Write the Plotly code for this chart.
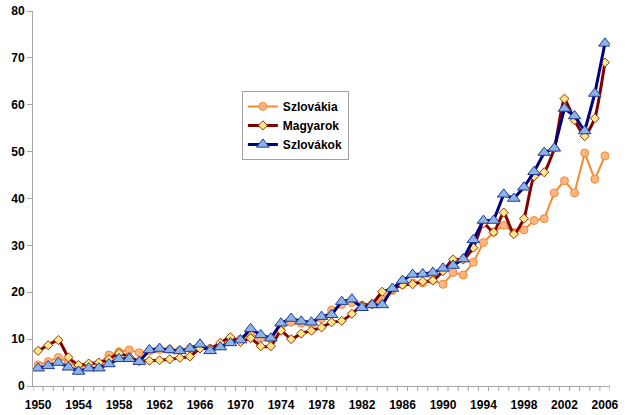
import plotly.graph_objects as go

years = list(range(1950, 2007))

szlovakia = [4.5, 5.2, 6.1, 5.1, 4.0, 4.5, 4.8, 6.6, 7.3, 7.7,
             7.1, 7.5, 7.8, 7.8, 7.6, 8.0, 8.6, 8.0, 8.6, 9.6,
             10.0, 11.2, 10.2, 10.0, 12.6, 13.6, 13.4, 13.2, 14.4, 16.2,
             17.4, 17.8, 17.2, 17.4, 18.5, 20.4, 21.6, 22.0, 22.0, 22.6,
             21.7, 24.2, 23.7, 26.4, 30.6, 32.8, 34.3, 32.8, 33.3, 35.3,
             35.7, 41.2, 43.8, 41.2, 49.7, 44.1, 49.1]

magyarok = [7.5, 8.7, 9.8, 6.1, 4.5, 4.8, 5.0, 5.7, 7.0, 6.2,
            5.3, 5.4, 5.5, 5.7, 6.0, 6.3, 8.0, 8.0, 9.2, 10.4,
            9.4, 10.2, 8.5, 8.5, 11.8, 10.0, 11.2, 11.8, 12.5, 13.6,
            13.9, 15.4, 17.2, 17.5, 20.1, 20.7, 21.6, 21.7, 22.3, 22.5,
            24.5, 27.0, 27.0, 29.5, 34.7, 32.8, 37.0, 32.4, 35.7, 44.7,
            45.6, 50.7, 61.3, 56.7, 53.3, 57.1, 69.0]

szlovakok = [3.8, 4.3, 5.0, 4.0, 3.1, 3.8, 3.8, 4.7, 5.8, 5.8,
             5.2, 7.7, 8.0, 7.7, 7.5, 8.0, 8.9, 7.5, 8.3, 9.2,
             9.8, 12.2, 10.9, 10.2, 13.4, 14.4, 13.8, 13.6, 14.8, 15.2,
             18.0, 18.5, 16.7, 17.3, 17.3, 20.8, 22.5, 23.8, 23.9, 24.2,
             25.1, 25.7, 27.1, 31.2, 35.3, 35.3, 40.9, 40.0, 42.4, 45.7,
             49.8, 50.7, 59.2, 57.6, 54.4, 62.4, 73.1]

x_label_start, x_label_step = 1950, 4
y_labels = [0, 10, 20, 30, 40, 50, 60, 70, 80]

FONT = "Liberation Sans, Arial, sans-serif"

fig = go.Figure()
fig.add_trace(go.Scatter(
    x=years, y=szlovakia, name="Szlovákia", mode="lines+markers",
    line=dict(color="#F7892F", width=2),
    marker=dict(symbol="circle", size=8, color="#FDB682",
                line=dict(color="#F7892F", width=1))))
fig.add_trace(go.Scatter(
    x=years, y=magyarok, name="Magyarok", mode="lines+markers",
    line=dict(color="#800000", width=3, shape="spline", smoothing=0.5),
    marker=dict(symbol="diamond", size=7, color="#FFE68C",
                line=dict(color="#993300", width=1))))
fig.add_trace(go.Scatter(
    x=years, y=szlovakok, name="Szlovákok", mode="lines+markers",
    line=dict(color="#000080", width=3),
    marker=dict(symbol="triangle-up", size=11, color="#8DB3E2",
                line=dict(color="#1F3C9E", width=1))))

# category-boundary tick marks below the x axis (Excel style)
boundaries = [y - 0.5 for y in years] + [years[-1] + 0.5]
tick_shapes = [dict(type="line", xref="x", yref="paper",
                    x0=b, x1=b, y0=0, y1=-0.0135,
                    line=dict(color="#A6A6A6", width=1), layer="below")
               for b in boundaries]

fig.update_layout(
    width=640, height=415,
    margin=dict(l=33, r=30, t=11, b=29, autoexpand=False),
    paper_bgcolor="white", plot_bgcolor="white",
    font=dict(family=FONT, size=12, color="black"),
    showlegend=True,
    shapes=tick_shapes,
    legend=dict(x=0.362, y=0.787, xanchor="left", yanchor="top",
                bgcolor="white", bordercolor="#A0A0A0", borderwidth=1,
                font=dict(family=FONT, size=12, color="black", weight="bold"),
                tracegroupgap=0, itemwidth=30),
)
fig.update_xaxes(
    range=[1949.5, 2006.5], tickmode="linear", tick0=x_label_start,
    dtick=x_label_step, tickformat="d", ticks="", ticklabelstandoff=8,
    showgrid=False,
    showline=True, linecolor="#A6A6A6", linewidth=1, zeroline=False,
    automargin=False,
    tickfont=dict(family=FONT, size=12, color="black", weight="bold"),
)
fig.update_yaxes(
    range=[0, 80], tickmode="array", tickvals=y_labels, showgrid=False,
    ticks="outside", ticklen=5, tickcolor="#A6A6A6",
    showline=True, linecolor="#A6A6A6", linewidth=1, zeroline=False,
    automargin=False,
    tickfont=dict(family=FONT, size=12, color="black", weight="bold"),
)

fig.write_html("out.html", config={"displayModeBar": False},
               post_script="document.body.style.margin='0';document.body.style.padding='0';")
